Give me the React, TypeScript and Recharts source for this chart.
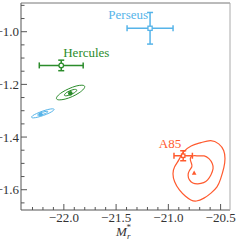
import React from 'react';
import { ScatterChart, Scatter, XAxis, YAxis, ErrorBar } from 'recharts';

const BLUE = '#56b4e9';
const GREEN = '#2b8c2b';
const RED = '#ff5a2e';
const AXIS = '#555';
const FONT = 'Liberation Serif, DejaVu Serif, serif';

// tick positions
const xMajorTicks = [-22.0, -21.5, -21.0, -20.5];
const xMinorTicks = [-22.3, -22.2, -22.1, -21.9, -21.8, -21.7, -21.6, -21.4, -21.3, -21.2, -21.1, -20.9, -20.8, -20.7, -20.6];
const yMajorTicks = [-1.0, -1.2, -1.4, -1.6];
const yMinorTicks = [-0.9, -0.95, -1.05, -1.1, -1.15, -1.25, -1.3, -1.35, -1.45, -1.5, -1.55, -1.65];

// cluster measurements
const perseusPoint = [{ name: 'Perseus', x: -21.175, y: -0.987, ex: 0.22, ey: 0.06 }];
const herculesPoint = [{ name: 'Hercules', x: -22.025, y: -1.128, ex: 0.21, ey: 0.02 }];
const a85Point = [{ name: 'A85', x: -20.858, y: -1.471, ex: 0.088, ey: 0.019 }];

// contour peaks
const blueCentre = [{ x: -22.222, y: -1.313 }];
const greenCentre = [{ x: -21.938, y: -1.234 }];
const redCentre = [{ x: -20.753, y: -1.536 }];

// contours
const blueOuter = [
  { x: -22.088, y: -1.294 }, { x: -22.1, y: -1.3 }, { x: -22.138, y: -1.309 }, { x: -22.193, y: -1.318 },
  { x: -22.251, y: -1.325 }, { x: -22.295, y: -1.328 }, { x: -22.313, y: -1.326 }, { x: -22.303, y: -1.319 },
  { x: -22.264, y: -1.311 }, { x: -22.209, y: -1.302 }, { x: -22.152, y: -1.295 }, { x: -22.108, y: -1.292 },
];
const blueInner = [
  { x: -22.142, y: -1.302 }, { x: -22.168, y: -1.31 }, { x: -22.227, y: -1.318 },
  { x: -22.261, y: -1.318 }, { x: -22.235, y: -1.31 }, { x: -22.176, y: -1.302 },
];
const greenOuter = [
  { x: -21.795, y: -1.206 }, { x: -21.805, y: -1.217 }, { x: -21.85, y: -1.232 }, { x: -21.918, y: -1.247 },
  { x: -21.99, y: -1.257 }, { x: -22.049, y: -1.26 }, { x: -22.076, y: -1.256 }, { x: -22.066, y: -1.245 },
  { x: -22.021, y: -1.23 }, { x: -21.953, y: -1.216 }, { x: -21.881, y: -1.205 }, { x: -21.822, y: -1.202 },
];
const greenInner = [
  { x: -21.865, y: -1.219 }, { x: -21.892, y: -1.232 }, { x: -21.963, y: -1.244 },
  { x: -22.006, y: -1.244 }, { x: -21.979, y: -1.23 }, { x: -21.908, y: -1.218 },
];
const redOuter = [
  { x: -20.864, y: -1.456 }, { x: -20.785, y: -1.431 }, { x: -20.688, y: -1.422 }, { x: -20.592, y: -1.409 },
  { x: -20.513, y: -1.424 }, { x: -20.464, y: -1.45 }, { x: -20.455, y: -1.481 }, { x: -20.464, y: -1.513 },
  { x: -20.503, y: -1.564 }, { x: -20.528, y: -1.589 }, { x: -20.592, y: -1.614 }, { x: -20.657, y: -1.633 },
  { x: -20.737, y: -1.646 }, { x: -20.785, y: -1.64 }, { x: -20.833, y: -1.627 }, { x: -20.897, y: -1.602 },
  { x: -20.945, y: -1.57 }, { x: -20.961, y: -1.538 }, { x: -20.945, y: -1.513 }, { x: -20.897, y: -1.488 },
];
const redInner = [
  { x: -20.791, y: -1.475 }, { x: -20.753, y: -1.469 }, { x: -20.705, y: -1.473 }, { x: -20.657, y: -1.469 },
  { x: -20.609, y: -1.481 }, { x: -20.576, y: -1.5 }, { x: -20.566, y: -1.519 }, { x: -20.592, y: -1.545 },
  { x: -20.624, y: -1.564 }, { x: -20.657, y: -1.574 }, { x: -20.72, y: -1.579 }, { x: -20.768, y: -1.576 },
  { x: -20.801, y: -1.564 }, { x: -20.816, y: -1.545 }, { x: -20.801, y: -1.526 }, { x: -20.768, y: -1.513 },
  { x: -20.778, y: -1.5 }, { x: -20.791, y: -1.488 },
];

const X_DOMAIN = [-22.41, -20.41];
const Y_DOMAIN = [-1.677, -0.891];

// label placement relative to the marker
const labelStyle: Record<string, { dx: number; dy: number; anchor: string }> = {
  Perseus: { dx: -2, dy: -9, anchor: 'end' },
  Hercules: { dx: 2, dy: -8, anchor: 'start' },
  A85: { dx: -2, dy: -8, anchor: 'end' },
};

const isMajor = (v: number, list: number[]) => list.some((m) => Math.abs(m - v) < 1e-6);
const fmt = (v: number) => v.toFixed(1).replace('-', '\u2212');
const txt = { fontFamily: FONT, fontSize: 13 };

const XTick = (props: any) => {
  const { x, y, payload } = props;
  const major = isMajor(payload.value, xMajorTicks);
  return (
    <g>
      <line x1={x} x2={x} y1={y} y2={y - (major ? 6 : 3)} stroke={AXIS} strokeWidth={1} />
      {major && (
        <text x={x} y={y + 11.5} textAnchor="middle" style={txt} fill="#333">
          {fmt(payload.value)}
        </text>
      )}
    </g>
  );
};

const YTick = (props: any) => {
  const { x, y, payload } = props;
  const major = isMajor(payload.value, yMajorTicks);
  return (
    <g>
      <line x1={x} x2={x + (major ? 6 : 3.5)} y1={y} y2={y} stroke={AXIS} strokeWidth={1} />
      {major && (
        <text x={x - 2} y={y + 4.5} textAnchor="end" style={txt} fill="#333">
          {fmt(payload.value)}
        </text>
      )}
    </g>
  );
};

const AxisTitle = (props: any) => {
  const { viewBox } = props;
  const cx = viewBox.x + viewBox.width / 2 - 2;
  const by = viewBox.y + 26;
  return (
    <text x={cx} y={by} textAnchor="middle" style={{ ...txt, fontStyle: 'italic' }} fill="#333">
      <tspan>M</tspan>
      <tspan style={{ fontSize: 9 }} dy={3}>r</tspan>
      <tspan style={{ fontSize: 9, fontStyle: 'normal' }} dx={-4} dy={-9}>*</tspan>
    </text>
  );
};

const makePoint = (color: string, kind: 'square' | 'circle', size: number) => (props: any) => {
  const { cx, cy, payload } = props;
  const ls = labelStyle[payload.name];
  return (
    <g>
      {kind === 'square' ? (
        <rect x={cx - size / 2} y={cy - size / 2} width={size} height={size} fill="#fff" stroke={color} strokeWidth={1.3} />
      ) : (
        <circle cx={cx} cy={cy} r={size / 2} fill="#fff" stroke={color} strokeWidth={1.3} />
      )}
      {ls && (
        <text x={cx + ls.dx} y={cy + ls.dy} textAnchor={ls.anchor as any} style={txt} fill={color}>
          {payload.name}
        </text>
      )}
    </g>
  );
};

const dot = (color: string, r: number) => (props: any) => <circle cx={props.cx} cy={props.cy} r={r} fill={color} />;
const tri = (color: string) => (props: any) => {
  const { cx, cy } = props;
  return <polygon points={`${cx - 2.3},${cy + 2} ${cx + 2.3},${cy + 2} ${cx},${cy - 2.3}`} fill={color} />;
};
const noShape = () => <g />;

const contour = (data: { x: number; y: number }[], color: string, w: number, key: string) => (
  <Scatter
    key={key}
    data={data}
    fill={color}
    line={{ stroke: color, strokeWidth: w, fill: 'none' }}
    lineJointType="basisClosed"
    shape={noShape}
    isAnimationActive={false}
  />
);

export default function App() {
  return (
    <div style={{ position: 'absolute', left: 0, top: 0, width: 240, height: 242, background: '#fff' }}>
      <ScatterChart width={240} height={242} margin={{ top: 2, right: 9, bottom: 31, left: 20 }}>
        <XAxis
          type="number"
          dataKey="x"
          domain={X_DOMAIN}
          allowDataOverflow
          ticks={[...xMajorTicks, ...xMinorTicks]}
          interval={0}
          height={1}
          tickSize={0}
          tickMargin={0}
          tickLine={false}
          tick={<XTick />}
          axisLine={{ stroke: AXIS }}
          label={<AxisTitle />}
        />
        <YAxis
          type="number"
          dataKey="y"
          domain={Y_DOMAIN}
          allowDataOverflow
          ticks={[...yMajorTicks, ...yMinorTicks]}
          interval={0}
          width={1}
          tickSize={0}
          tickMargin={0}
          tickLine={false}
          tick={<YTick />}
          axisLine={{ stroke: AXIS }}
        />
        <XAxis xAxisId="top" orientation="top" type="number" domain={X_DOMAIN} allowDataOverflow height={1} tick={false} tickLine={false} axisLine={{ stroke: '#777' }} />
        <YAxis yAxisId="right" orientation="right" type="number" domain={Y_DOMAIN} allowDataOverflow width={1} tick={false} tickLine={false} axisLine={{ stroke: '#aaa' }} />

        {contour(blueOuter, BLUE, 1, 'bo')}
        {contour(blueInner, BLUE, 1, 'bi')}
        {contour(greenOuter, GREEN, 1, 'go')}
        {contour(greenInner, GREEN, 1, 'gi')}
        {contour(redOuter, RED, 1.2, 'ro')}
        {contour(redInner, RED, 1.2, 'ri')}

        <Scatter data={blueCentre} fill={BLUE} shape={dot(BLUE, 2)} isAnimationActive={false} />
        <Scatter data={greenCentre} fill={GREEN} shape={dot(GREEN, 2.3)} isAnimationActive={false} />
        <Scatter data={redCentre} fill={RED} shape={tri(RED)} isAnimationActive={false} />

        <Scatter data={perseusPoint} fill={BLUE} shape={makePoint(BLUE, 'square', 4.2)} isAnimationActive={false}>
          <ErrorBar dataKey="ex" direction="x" width={3} stroke={BLUE} strokeWidth={1.5} />
          <ErrorBar dataKey="ey" direction="y" width={3} stroke={BLUE} strokeWidth={1.5} />
        </Scatter>
        <Scatter data={herculesPoint} fill={GREEN} shape={makePoint(GREEN, 'circle', 4.6)} isAnimationActive={false}>
          <ErrorBar dataKey="ex" direction="x" width={3} stroke={GREEN} strokeWidth={1.5} />
          <ErrorBar dataKey="ey" direction="y" width={3} stroke={GREEN} strokeWidth={1.5} />
        </Scatter>
        <Scatter data={a85Point} fill={RED} shape={makePoint(RED, 'square', 3.4)} isAnimationActive={false}>
          <ErrorBar dataKey="ex" direction="x" width={3} stroke={RED} strokeWidth={1.5} />
          <ErrorBar dataKey="ey" direction="y" width={3} stroke={RED} strokeWidth={1.5} />
        </Scatter>
      </ScatterChart>
    </div>
  );
}
